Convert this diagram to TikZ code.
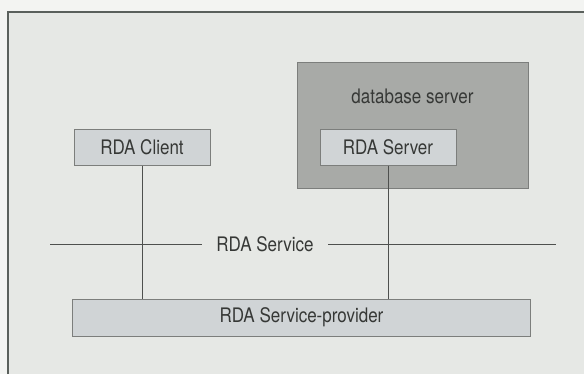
\documentclass[tikz,border=0pt]{standalone}
\usepackage{fontspec}
\setmainfont{TeX Gyre Heros}[FakeStretch=0.85]
\definecolor{pagebg}{HTML}{F3F4F2}
\definecolor{panelbg}{HTML}{E6E8E5}
\definecolor{framecol}{HTML}{5A605C}
\definecolor{dbfill}{HTML}{A8AAA7}
\definecolor{boxfill}{HTML}{D0D4D6}
\definecolor{edgecol}{HTML}{7C7E7C}
\definecolor{linecol}{HTML}{4E504E}
\definecolor{txtcol}{HTML}{363836}
\begin{document}
\begin{tikzpicture}[x=1bp,y=-1bp,
  every node/.style={text=txtcol,font=\fontsize{20bp}{24bp}\selectfont},
  rdabox/.style={draw=edgecol,line width=1bp,fill=boxfill,inner sep=0pt},
  dbbox/.style={draw=edgecol,line width=1bp,fill=dbfill,inner sep=0pt},
  conn/.style={draw=linecol,line width=1bp}]
\useasboundingbox (0,0) rectangle (584,374);
\fill[pagebg] (0,0) rectangle (584,374);
\fill[panelbg] (8,12) rectangle (584,374);
\draw[framecol,line width=1.4bp] (8,374) -- (8,12) -- (584,12);
% database server
\node[dbbox,minimum width=231bp,minimum height=126bp] (db) at (412.5,125) {};
\node[inner sep=0pt] (dblabel) at (412.5,96) {database server};
% boxes
\node[rdabox,minimum width=136bp,minimum height=36bp] (server) at (388,147) {RDA Server};
\node[rdabox,minimum width=136bp,minimum height=36bp] (client) at (142,147) {RDA Client};
\node[rdabox,minimum width=457bp,minimum height=37bp] (prov) at (301.5,317.5) {RDA Service-provider};
% service line
\coordinate (svcL) at (50,244.5);
\coordinate (svcR) at (556,244.5);
\node[inner sep=0pt,minimum width=126bp] (svc) at (265,244.5) {RDA Service};
\draw[conn] (svcL) -- (svc.west);
\draw[conn] (svc.east) -- (svcR);
% vertical connectors
\draw[conn] (client.south) -- (client.south |- prov.north);
\draw[conn] (server.south) -- (server.south |- prov.north);
\end{tikzpicture}
\end{document}
